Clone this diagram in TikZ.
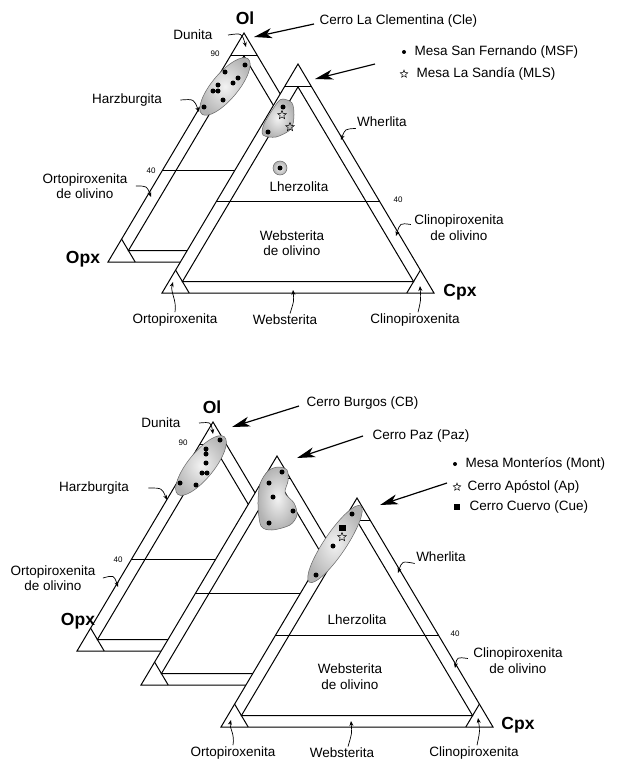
\documentclass[tikz,border=0pt]{standalone}
\usepackage{fontspec}
\setmainfont{Liberation Sans}
\usepackage{tikz}
\usetikzlibrary{arrows.meta}
\usetikzlibrary{shapes.geometric}

\newcommand{\ternario}[2]{%
\begin{scope}[shift={(#1,#2)}]
\draw[fill=white] (0,0) -- (-136,229) -- (136,229) -- cycle ;
\draw (-13.6,22.9) -- (13.6,22.9) ;
\draw (0,22.9) -- (-115.6,217.6) -- (115.6,217.6) -- cycle ;
\draw (-81.6,137.4) -- (81.6,137.4) ;
\draw (-122.4,206.1) -- (-108.8,229) (122.4,206.1) -- (108.8,229) ;
\end{scope}}

\begin{document}
\begin{tikzpicture}[x=1pt,y=-1pt,line width=1pt,
  font=\fontsize{13.5}{15.5}\selectfont,
  vertice/.style={font=\fontsize{17.5}{20}\selectfont\bfseries,inner sep=1pt},
  campo/.style={align=center,inner sep=1pt},
  num/.style={font=\fontsize{8}{9}\selectfont,inner sep=1pt},
  flecha/.style={line width=1.2pt,-{Stealth[length=18pt,width=10pt,inset=5pt]}},
  guia/.style={line width=0.7pt,-{Stealth[length=5pt,width=4pt]}},
  mancha/.style={draw=black!60,line width=0.5pt,inner color=gray!10,outer color=gray!60},
  bala/.style={circle,fill=black,inner sep=0pt,minimum size=4pt},
  estrella/.style={star,star points=5,star point ratio=2.3,draw,line width=0.5pt,inner sep=0pt,minimum size=9pt},
  cuadro/.style={rectangle,fill=black,inner sep=0pt,minimum width=7pt,minimum height=6pt}]
\useasboundingbox (0,0) rectangle (616,760) ;

\ternario{244}{33}
\ternario{298}{64}
\ternario{213}{422}
\ternario{277}{456}
\ternario{357}{498}

\draw[mancha,rotate around={50:(225,86.5)}] (225,86.5) ellipse (36 and 13) ;
\draw[mancha] plot[smooth cycle] coordinates {(283,99) (292,103) (294,115) (291,129) (276,137) (263,135) (264,124) (277,103)} ;
\draw[mancha] (280,168) circle (7) ;
\draw[mancha,rotate around={51:(201,465.5)}] (201,465.5) ellipse (37 and 13) ;
\draw[mancha] plot[smooth cycle] coordinates {(278,467) (287,470) (288,481) (285,493) (294,503) (297,515) (290,525) (272,530) (261,526) (258,505) (260,484) (268,471)} ;
\draw[mancha,rotate around={56:(335,544)}] (335,544) ellipse (46 and 11) ;

\fill (245,65) circle (2.5) (225,72) circle (2.5) (238,78) circle (2.5) (233,83) circle (2.5)
  (218,85) circle (2.5) (213,91) circle (2.5) (218,91) circle (2.5) (223,100) circle (2.5)
  (204,107) circle (2.5) (283,107) circle (2.5) (268,132) circle (2.5) (280,168) circle (2.5) ;
\fill (220,440) circle (2.5) (206,449) circle (2.5) (206,454) circle (2.5) (206,463) circle (2.5)
  (202,473) circle (2.5) (207,473) circle (2.5) (180,483) circle (2.5) (196,485) circle (2.5) ;
\fill (282,472) circle (2.5) (269,483) circle (2.5) (273,497) circle (2.5) (293,511) circle (2.5)
  (269,523) circle (2.5) (352,514) circle (2.5) (333,546) circle (2.5) (316,575) circle (2.5) ;
\node[estrella] (e1) at (282,115) {} ;
\node[estrella] (e2) at (290,127) {} ;
\node[estrella] (e3) at (342,537) {} ;
\node[cuadro] (c1) at (342,528) {} ;

\node[vertice] (ol1) at (245,18) {Ol} ;
\node[vertice] (opx1) at (83,259) {Opx} ;
\node[vertice] (cpx1) at (460,292) {Cpx} ;
\node[vertice] (ol2) at (212,407) {Ol} ;
\node[vertice] (opx2) at (78,621) {Opx} ;
\node[vertice] (cpx2) at (518,725) {Cpx} ;

\node[campo] (dun1) at (193,35) {Dunita} ;
\node[campo] (harz1) at (127,100) {Harzburgita} ;
\node[campo] (ortol1) at (85,186) {Ortopiroxenita\\de olivino} ;
\node[campo] (wher1) at (382,122) {Wherlita} ;
\node[campo] (lher1) at (299,187) {Lherzolita} ;
\node[campo] (webol1) at (292,243) {Websterita\\de olivino} ;
\node[campo] (clinol1) at (459,227.5) {Clinopiroxenita\\de olivino} ;
\node[campo] (orto1) at (175,320) {Ortopiroxenita} ;
\node[campo] (webs1) at (285,320) {Websterita} ;
\node[campo] (clino1) at (415,320) {Clinopiroxenita} ;
\node[num] (n90a) at (215,54) {90} ;
\node[num] (n40a) at (151,171) {40} ;
\node[num] (n40b) at (398,200) {40} ;

\node[campo] (dun2) at (161,423) {Dunita} ;
\node[campo] (harz2) at (94,488) {Harzburgita} ;
\node[campo] (ortol2) at (53,578) {Ortopiroxenita\\de olivino} ;
\node[campo] (wher2) at (441,557) {Wherlita} ;
\node[campo] (lher2) at (357,620) {Lherzolita} ;
\node[campo] (webol2) at (350,676.5) {Websterita\\de olivino} ;
\node[campo] (clinol2) at (518,660.5) {Clinopiroxenita\\de olivino} ;
\node[campo] (orto2) at (233,753) {Ortopiroxenita} ;
\node[campo] (webs2) at (342,753) {Websterita} ;
\node[campo] (clino2) at (474,753) {Clinopiroxenita} ;
\node[num] (n90b) at (183,443) {90} ;
\node[num] (n40c) at (118,560) {40} ;
\node[num] (n40d) at (455,634) {40} ;

\node[campo,anchor=west] (cle) at (318,21) {Cerro La Clementina (Cle)} ;
\node[campo,anchor=west] (cb) at (305,403) {Cerro Burgos (CB)} ;
\node[campo,anchor=west] (paz) at (371,436) {Cerro Paz (Paz)} ;

\node[bala] (b1) at (404,52) {} ;
\node[campo,anchor=west] (msf) at (413,52) {Mesa San Fernando (MSF)} ;
\node[estrella,minimum size=8pt] (b2) at (404,74) {} ;
\node[campo,anchor=west] (mls) at (415,74) {Mesa La Sandía (MLS)} ;
\node[bala] (b3) at (455,464) {} ;
\node[campo,anchor=west] (mont) at (464,464) {Mesa Monteríos (Mont)} ;
\node[estrella,minimum size=8pt] (b4) at (457,487) {} ;
\node[campo,anchor=west] (ap) at (466,487) {Cerro Apóstol (Ap)} ;
\node[cuadro,minimum width=6pt] (b5) at (457,507) {} ;
\node[campo,anchor=west] (cue) at (468,507) {Cerro Cuervo (Cue)} ;

\coordinate (p1) at (254,37) ;
\coordinate (p2a) at (375,64) ;
\coordinate (p2) at (315,79) ;
\coordinate (p3) at (232,427) ;
\coordinate (p4) at (297,458) ;
\coordinate (p5a) at (447,483) ;
\coordinate (p5) at (380,505) ;
\draw[flecha] ([xshift=-4pt,yshift=-3pt]cle.west) -- (p1) ;
\draw[flecha] (p2a) -- (p2) ;
\draw[flecha] ([xshift=-6pt,yshift=-3pt]cb.west) -- (p3) ;
\draw[flecha] ([xshift=-8pt]paz.west) -- (p4) ;
\draw[flecha] (p5a) -- (p5) ;

\coordinate (g1) at (246,47) ;
\coordinate (g2) at (199,112) ;
\coordinate (g3) at (151,197) ;
\coordinate (g4) at (341,140) ;
\coordinate (g5) at (396,236) ;
\coordinate (g6) at (173,282) ;
\coordinate (g7) at (293,290) ;
\coordinate (g8) at (420,286) ;
\coordinate (g9) at (213,434) ;
\coordinate (g10) at (167,500) ;
\coordinate (g11) at (118,587) ;
\coordinate (g12) at (398,573) ;
\coordinate (g13) at (455,668) ;
\coordinate (g14) at (231,720) ;
\coordinate (g15) at (351,721) ;
\coordinate (g16) at (478,718) ;
\draw[guia] ([xshift=14pt]dun1.east) .. controls (242,33) .. (g1) ;
\draw[guia] ([xshift=17pt]harz1.east) .. controls (194,99) .. (g2) ;
\draw[guia] ([xshift=7pt]ortol1.east) .. controls (147,186) .. (g3) ;
\draw[guia] (wher1.south west) .. controls (345,129) .. (g4) ;
\draw[guia] ([xshift=-2pt,yshift=3pt]clinol1.west) .. controls (400,223) .. (g5) ;
\draw[guia] (orto1.north) .. controls (177,300) and (170,292) .. (g6) ;
\draw[guia] ([xshift=5pt]webs1.north) .. controls (294,301) .. (g7) ;
\draw[guia] ([xshift=3pt]clino1.north) .. controls (421,300) .. (g8) ;
\draw[guia] ([xshift=17pt]dun2.east) .. controls (211,422) .. (g9) ;
\draw[guia] ([xshift=18pt]harz2.east) .. controls (162,488) .. (g10) ;
\draw[guia] ([xshift=6pt]ortol2.east) .. controls (114,575) .. (g11) ;
\draw[guia] (wher2.south west) .. controls (402,561) .. (g12) ;
\draw[guia] ([xshift=-4pt,yshift=2pt]clinol2.west) .. controls (457,657) .. (g13) ;
\draw[guia] (orto2.north) .. controls (235,733) and (229,728) .. (g14) ;
\draw[guia] ([xshift=6pt]webs2.north) .. controls (352,733) .. (g15) ;
\draw[guia] ([xshift=3pt]clino2.north) .. controls (480,731) .. (g16) ;
\end{tikzpicture}
\end{document}
